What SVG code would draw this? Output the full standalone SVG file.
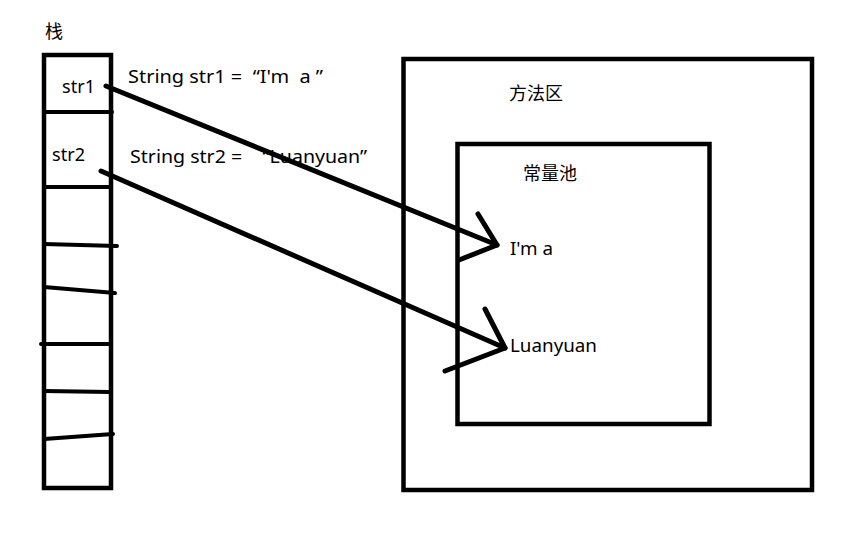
<svg xmlns="http://www.w3.org/2000/svg" width="866" height="535" viewBox="0 0 866 535">
<style>
.box{fill:none;stroke:#000;stroke-width:4.5}
.div{stroke:#000;stroke-width:4;stroke-linecap:round}
.arr{fill:none;stroke:#000;stroke-width:5;stroke-linecap:round;stroke-linejoin:round}
.t{font-family:"Noto Sans","Liberation Sans",sans-serif;font-size:18px;fill:#000;white-space:pre}
.c{font-family:"Noto Sans CJK SC",sans-serif;font-size:18px;fill:#000}
</style>
<rect width="866" height="535" fill="#fff"/>
<g id="stack">
<text class="c" x="45" y="38">栈</text>
<rect class="box" x="44" y="55" width="67" height="433"/>
<line class="div" x1="44" y1="112" x2="112" y2="112"/>
<line class="div" x1="44" y1="187" x2="110" y2="187"/>
<line class="div" x1="44" y1="244" x2="117" y2="246"/>
<line class="div" x1="44" y1="287" x2="115" y2="293"/>
<line class="div" x1="41" y1="344" x2="110" y2="344"/>
<line class="div" x1="44" y1="391" x2="110" y2="392"/>
<line class="div" x1="44" y1="439" x2="113" y2="434"/>
<text class="t" x="62" y="93" textLength="33" lengthAdjust="spacingAndGlyphs">str1</text>
<text class="t" x="52" y="161" textLength="33" lengthAdjust="spacingAndGlyphs">str2</text>
</g>
<g id="code">
<text class="t" x="128" y="83" textLength="195" lengthAdjust="spacingAndGlyphs" xml:space="preserve">String str1 =  “I'm  a ”</text>
<text class="t" x="130" y="163" textLength="237" lengthAdjust="spacingAndGlyphs" xml:space="preserve">String str2 =    “Luanyuan”</text>
</g>
<g id="method-area">
<rect class="box" x="403.5" y="59" width="408.5" height="431" stroke-width="5"/>
<text class="c" x="509" y="100" font-size="19">方法区</text>
</g>
<g id="constant-pool">
<rect class="box" x="457.5" y="144" width="252" height="280"/>
<text class="c" x="523" y="180">常量池</text>
<text class="t" x="510" y="255" textLength="43" lengthAdjust="spacingAndGlyphs">I'm a</text>
<text class="t" x="510" y="352" textLength="87" lengthAdjust="spacingAndGlyphs">Luanyuan</text>
</g>
<g id="connectors">
<polyline class="arr" points="106,86 497,245"/>
<polyline class="arr" points="478,214 497,245 459,260"/>
<polyline class="arr" points="101,171 505,348"/>
<polyline class="arr" points="485,309 505,348 445,371"/>
</g>
</svg>
